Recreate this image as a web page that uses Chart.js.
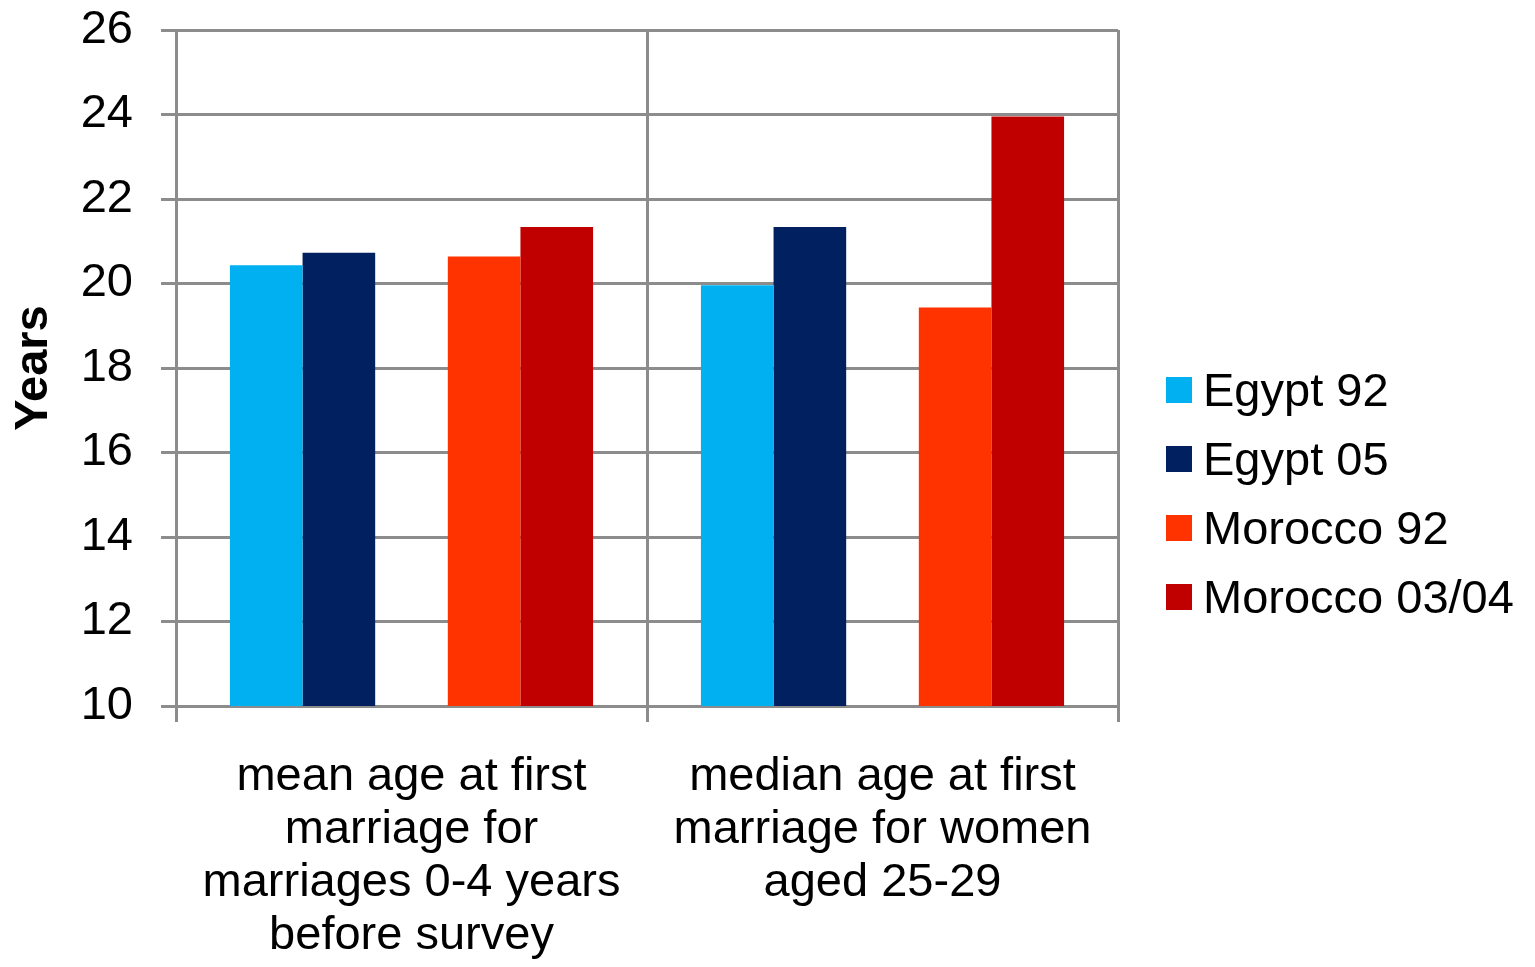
<!DOCTYPE html>
<html>
<head>
<meta charset="utf-8">
<script src="https://cdn.jsdelivr.net/npm/chart.js@4/dist/chart.umd.min.js"></script>
<style>
  html, body { margin: 0; padding: 0; background: #fff; }
  #wrap { position: relative; width: 1535px; height: 967px; }
  #legend { position: absolute; left: 1166px; top: 355px; font-family: "Liberation Sans", Arial, sans-serif; font-size: 47px; color: #000; }
  .item { display: flex; align-items: center; height: 69px; line-height: 69px; white-space: nowrap; }
  .sw { width: 26px; height: 26px; margin-right: 11px; flex: none; }
</style>
</head>
<body>
<div id="wrap">
  <canvas id="c" width="1535" height="967"></canvas>
  <div id="legend"></div>
</div>
<script>
const categories = [
  ["mean age at first", "marriage for", "marriages 0-4 years", "before survey"],
  ["median age at first", "marriage for women", "aged 25-29"]
];
const seriesNames = ["Egypt 92", "Egypt 05", "Morocco 92", "Morocco 03/04"];
const egypt92 = [20.43, 19.96];
const egypt05 = [20.73, 21.34];
const morocco92 = [20.64, 19.43];
const morocco0304 = [21.34, 23.95];
const seriesColors = ["#00b0f0", "#002060", "#ff3300", "#c00000"];
const yTicks = [10, 12, 14, 16, 18, 20, 22, 24, 26];

const FONT = '"Liberation Sans", Arial, sans-serif';
const GRID = '#8c8c8c';

const datasets = [
  { label: seriesNames[0], data: egypt92, backgroundColor: seriesColors[0] },
  { label: seriesNames[1], data: egypt05, backgroundColor: seriesColors[1] },
  { label: '', data: [null, null], backgroundColor: 'rgba(0,0,0,0)', spacer: true },
  { label: seriesNames[2], data: morocco92, backgroundColor: seriesColors[2] },
  { label: seriesNames[3], data: morocco0304, backgroundColor: seriesColors[3] }
];

new Chart(document.getElementById('c'), {
  type: 'bar',
  data: { labels: categories, datasets: datasets },
  options: {
    responsive: false,
    animation: false,
    devicePixelRatio: 1,
    layout: { padding: { left: 0, right: 417, top: 30, bottom: 0 } },
    datasets: { bar: { categoryPercentage: 0.771, barPercentage: 1.0, borderWidth: 0 } },
    plugins: { legend: { display: false }, tooltip: { enabled: false } },
    scales: {
      x: {
        offset: true,
        grid: { display: true, offset: true, color: GRID, lineWidth: 3, tickLength: 16, drawOnChartArea: true },
        border: { display: true, color: GRID, width: 3 },
        ticks: {
          color: '#000', font: { family: FONT, size: 47, lineHeight: 1.13 },
          padding: 28, maxRotation: 0, minRotation: 0, autoSkip: false
        },
        afterFit: (s) => { s.height = 261; s.paddingLeft = 0; s.paddingRight = 0; s.paddingTop = 0; s.paddingBottom = 0; }
      },
      y: {
        min: 10, max: 26,
        afterBuildTicks: (s) => { s.ticks = yTicks.map(v => ({ value: v })); },
        grid: { color: GRID, lineWidth: 3, tickLength: 15 },
        border: { display: true, color: GRID, width: 3 },
        ticks: { color: '#000', font: { family: FONT, size: 47 }, padding: 28 },
        title: { display: true, text: 'Years', color: '#000', font: { family: FONT, size: 47, weight: 'bold' }, padding: { top: 6, bottom: 0 } },
        afterFit: (s) => { s.width = 176; s.paddingTop = 0; s.paddingBottom = 0; s.paddingLeft = 0; s.paddingRight = 0; }
      }
    }
  }
});

const legend = document.getElementById('legend');
datasets.filter(d => !d.spacer).forEach(d => {
  const row = document.createElement('div');
  row.className = 'item';
  const sw = document.createElement('span');
  sw.className = 'sw';
  sw.style.background = d.backgroundColor;
  const tx = document.createElement('span');
  tx.textContent = d.label;
  row.appendChild(sw); row.appendChild(tx);
  legend.appendChild(row);
});
</script>
</body>
</html>
